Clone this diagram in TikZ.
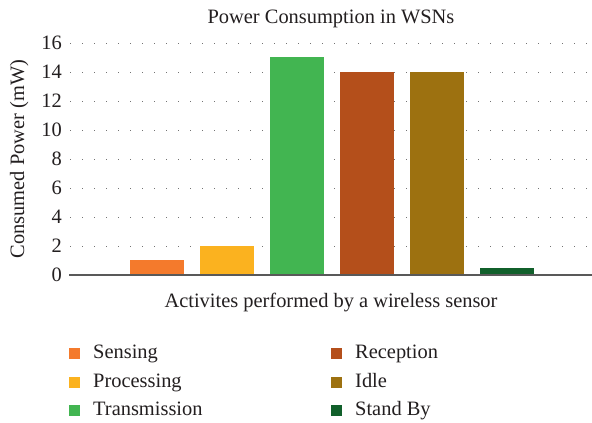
\documentclass[tikz,border=0pt]{standalone}
\usepackage{fontspec}
\setmainfont{Liberation Serif}
\definecolor{cSense}{HTML}{F47A2C}
\definecolor{cProc}{HTML}{FBB21F}
\definecolor{cTrans}{HTML}{42B551}
\definecolor{cRecv}{HTML}{B44F1B}
\definecolor{cIdle}{HTML}{9D7110}
\definecolor{cStand}{HTML}{11602B}
\definecolor{txt}{HTML}{231F20}
\tikzset{
  lbl/.style={font=\fontsize{20.5}{24}\selectfont, text=txt, inner sep=0pt},
  tick/.style={lbl, anchor=east},
  grid/.style={draw=black!55, line width=1bp, dash pattern=on 1bp off 11bp},
  bar/.style={draw=none, minimum width=54bp, inner sep=0pt, anchor=south},
  key/.style={draw=none, minimum size=11bp, inner sep=0pt},
  keytext/.style={lbl, anchor=base west},
}
\begin{document}
\begin{tikzpicture}[x=1bp,y=-1bp]
\useasboundingbox (0,0) rectangle (592,422);
\fill[white] (0,0) rectangle (592,422);

% dotted horizontal grid lines and tick labels
\foreach \k in {1,...,8} {
  \pgfmathsetmacro{\yy}{275-29*\k}
  \draw[grid] (70,\yy) -- (592,\yy);
}
\foreach \k/\v in {0/0,1/2,2/4,3/6,4/8,5/10,6/12,7/14,8/16} {
  \pgfmathsetmacro{\yy}{275-29*\k}
  \node[tick] (t\k) at (62,\yy) {\v};
}

% bars (height = 14.5bp per mW)
\coordinate (base1) at (157,275);
\coordinate (base2) at (227,275);
\coordinate (base3) at (297,275);
\coordinate (base4) at (366.5,275);
\coordinate (base5) at (437,275);
\coordinate (base6) at (506.5,275);
\node[bar, fill=cSense, minimum height=14.5bp] (b1) at (base1) {};
\node[bar, fill=cProc,  minimum height=29bp]   (b2) at (base2) {};
\node[bar, fill=cTrans, minimum height=217.5bp] (b3) at (base3) {};
\node[bar, fill=cRecv,  minimum height=203bp]  (b4) at (base4) {};
\node[bar, fill=cIdle,  minimum height=203bp]  (b5) at (base5) {};
\node[bar, fill=cStand, minimum height=7.25bp] (b6) at (base6) {};

% x axis
\coordinate (axL) at (69,275);
\coordinate (axR) at (592,275);
\draw[draw=black!65, line width=1.3bp] (axL) -- (axR);

% titles
\node[lbl, anchor=base] (title) at (331,23) {Power Consumption in WSNs};
\node[lbl, anchor=base] (xlab) at (331,307) {Activites performed by a wireless sensor};
\node[lbl, anchor=base, rotate=90] (ylab) at (24,159) {Consumed Power (mW)};

% legend
\node[key, fill=cSense] (k1) at (74.5,353) {};
\node[key, fill=cProc]  (k2) at (74.5,382) {};
\node[key, fill=cTrans] (k3) at (74.5,410) {};
\node[key, fill=cRecv]  (k4) at (336.5,353) {};
\node[key, fill=cIdle]  (k5) at (336.5,382) {};
\node[key, fill=cStand] (k6) at (336.5,410) {};
\node[keytext] (l1) at (93,358) {Sensing};
\node[keytext] (l2) at (93,387) {Processing};
\node[keytext] (l3) at (93,415) {Transmission};
\node[keytext] (l4) at (355,358) {Reception};
\node[keytext] (l5) at (355,387) {Idle};
\node[keytext] (l6) at (355,415) {Stand By};
\end{tikzpicture}
\end{document}
